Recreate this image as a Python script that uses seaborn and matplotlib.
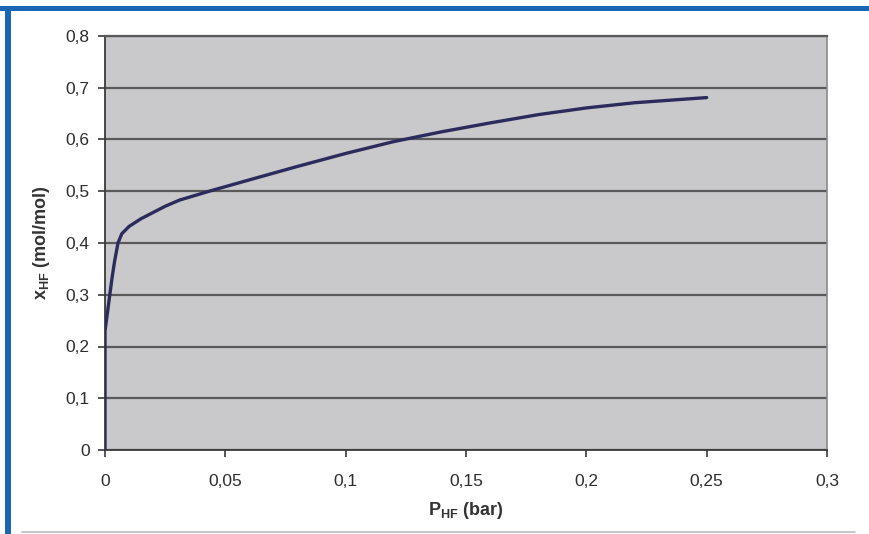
import matplotlib
matplotlib.use("Agg")
import matplotlib.pyplot as plt
import seaborn as sns
import pandas as pd
from matplotlib.patches import Rectangle
from matplotlib.lines import Line2D
from matplotlib.ticker import FuncFormatter

# Data
p_hf = [0.0, 0.0, 0.001, 0.002, 0.003, 0.004, 0.0054, 0.007, 0.01, 0.015, 0.02, 0.025,
        0.031, 0.044, 0.06, 0.08, 0.1, 0.12, 0.14, 0.16, 0.18, 0.2, 0.22, 0.25]
x_hf = [0.0, 0.23, 0.265, 0.30, 0.335, 0.365, 0.40, 0.418, 0.432, 0.447, 0.459, 0.471,
        0.483, 0.501, 0.522, 0.548, 0.573, 0.596, 0.615, 0.632, 0.648, 0.661, 0.671, 0.681]
x_ticks = [0, 0.05, 0.1, 0.15, 0.2, 0.25, 0.3]
y_ticks = [0, 0.1, 0.2, 0.3, 0.4, 0.5, 0.6, 0.7, 0.8]
x_label = "P$_{HF}$ (bar)"
y_label = "x$_{HF}$ (mol/mol)"

df = pd.DataFrame({"p": p_hf, "x": x_hf})

sns.set_theme(style="white")
plt.rcParams["font.family"] = ["Liberation Sans", "DejaVu Sans"]
plt.rcParams["mathtext.fontset"] = "custom"
plt.rcParams["mathtext.rm"] = "Liberation Sans:bold"
plt.rcParams["mathtext.it"] = "Liberation Sans:bold"
plt.rcParams["mathtext.bf"] = "Liberation Sans:bold"
plt.rcParams["mathtext.default"] = "bf"

fig = plt.figure(figsize=(8.7, 5.34), dpi=100)
fig.patch.set_facecolor("white")
ax = fig.add_axes([105 / 870, 84 / 534, 722 / 870, 414 / 534])
ax.set_facecolor("#c9c9cb")

sns.lineplot(data=df, x="p", y="x", sort=False, estimator=None, ax=ax,
             color="#2b2b5e", linewidth=2.4, zorder=3)

ax.set_xlim(0, 0.3)
ax.set_ylim(0, 0.8)
ax.set_xticks(x_ticks)
ax.set_yticks(y_ticks)

def comma_fmt(v, pos):
    s = ("%g" % round(v, 3))
    return s.replace(".", ",")

ax.xaxis.set_major_formatter(FuncFormatter(comma_fmt))
ax.yaxis.set_major_formatter(FuncFormatter(comma_fmt))

ax.grid(axis="y", color="#5a5a5a", linewidth=1.6, zorder=1)
ax.grid(axis="x", visible=False)
ax.set_axisbelow(True)

for side in ["left", "bottom"]:
    ax.spines[side].set_color("#3a3a3a")
    ax.spines[side].set_linewidth(1.3)
ax.spines["right"].set_color("#8a8a8a")
ax.spines["right"].set_linewidth(1.2)
ax.spines["top"].set_color("#5a5a5a")
ax.spines["top"].set_linewidth(1.6)

ax.tick_params(axis="both", direction="out", length=5, width=1.2,
               color="#3a3a3a", labelsize=12.5, labelcolor="#2e2e2e",
               bottom=True, left=True)
ax.tick_params(axis="x", pad=12)
ax.tick_params(axis="y", pad=6)

ax.set_xlabel(x_label, fontsize=13, fontweight="bold", color="#333333", labelpad=8)
ax.set_ylabel(y_label, fontsize=13, fontweight="bold", color="#333333", labelpad=10)

# Blue frame (top and left) and bottom gray rule
fig.add_artist(Rectangle((0, 1 - 11 / 534), 1, 5 / 534, transform=fig.transFigure,
                         facecolor="#1a66b5", edgecolor="none"))
fig.add_artist(Rectangle((5 / 870, 0), 6 / 870, 1 - 6 / 534, transform=fig.transFigure,
                         facecolor="#1a66b5", edgecolor="none"))
fig.add_artist(Line2D([22 / 870, 855 / 870], [2 / 534, 2 / 534], transform=fig.transFigure,
                      color="#bdbdbd", linewidth=1.2))

fig.savefig("out.png", dpi=100)
